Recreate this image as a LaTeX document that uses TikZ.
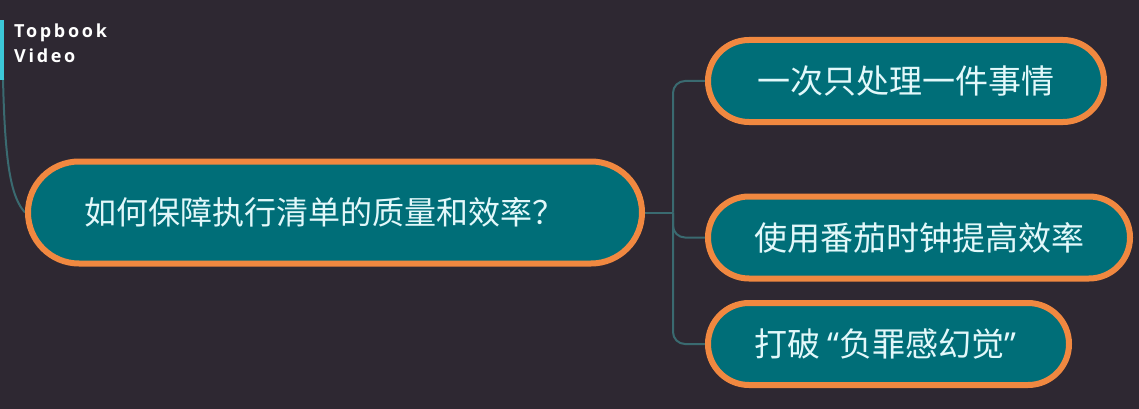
\documentclass[tikz,border=0pt]{standalone}
\usepackage{fontspec}
\newfontfamily\cjk{Noto Sans CJK SC}
\newfontfamily\latq{Noto Sans}
\newfontfamily\wmfont[LetterSpace=15]{Open Sans}
\usetikzlibrary{backgrounds}
\definecolor{bgc}{HTML}{2E2832}
\definecolor{teal}{HTML}{006E78}
\definecolor{orng}{HTML}{F08840}
\definecolor{txt}{HTML}{E2F8FA}
\definecolor{conn}{HTML}{3A6A70}
\definecolor{bar}{HTML}{3CC8D8}
\tikzset{
  topic/.style={draw=orng, fill=teal, line width=6pt, inner sep=0pt,
    text=txt, font=\cjk\fontsize{33}{38}\selectfont},
  central/.style={topic, minimum width=614pt, minimum height=102pt, rounded corners=51pt},
  child/.style={topic, minimum height=82pt, rounded corners=41pt},
  link/.style={draw=conn, line width=2pt, rounded corners=12pt},
  wm/.style={text=white, font=\wmfont\bfseries\fontsize{18}{20}\selectfont, inner sep=0pt, anchor=base west}
}
\begin{document}
\begin{tikzpicture}[x=1pt,y=-1pt]
\useasboundingbox (0,0) rectangle (1139,409);
\node[central] (c) at (335,212.5) {};
\node[font=\cjk\fontsize{32}{36}\selectfont, anchor=west, inner sep=0pt, text=txt] (ct) at (84,212.5) {如何保障执行清单的质量和效率？};
\node[child, minimum width=396pt] (n1) at (906,81) {一次只处理一件事情};
\node[child, minimum width=422pt] (n2) at (919,237.5) {使用番茄时钟提高效率};
\node[child, minimum width=361pt] (n3) at (888.5,344) {};
\node[font=\cjk\fontsize{33}{38}\selectfont, anchor=west, inner sep=0pt, text=txt] (n3t) at (754,344) {打破 {\latq “}负罪感幻觉{\latq ”}};
\node[wm] (w1) at (14,38) {Topbook};
\node[wm] (w2) at (14,63) {Video};
\begin{pgfonlayer}{background}
  \fill[bgc] (0,0) rectangle (1139,409);
  \coordinate (j) at (673,212.5);
  \coordinate (r) at (3,78);
  \draw[link] (c.east) -- (j);
  \draw[link] (j) |- (n1.west);
  \draw[link] (j) |- (n2.west);
  \draw[link] (j) |- (n3.west);
  \draw[draw=conn, line width=2pt] (r) .. controls (5,170) and (12,198) .. (c.west);
  \fill[bar] (0,20) rectangle (4,80);
\end{pgfonlayer}
\end{tikzpicture}
\end{document}
